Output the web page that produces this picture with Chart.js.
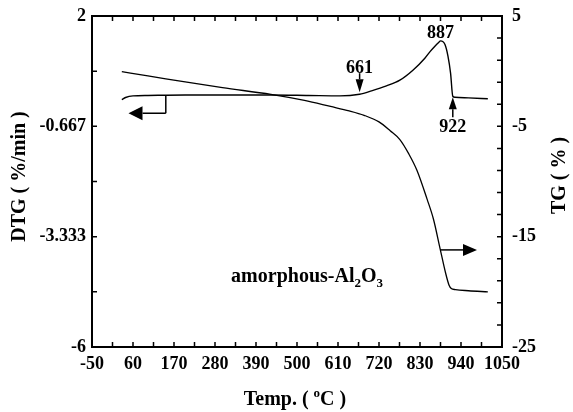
<!DOCTYPE html>
<html>
<head>
<meta charset="utf-8">
<script src="https://cdn.jsdelivr.net/npm/chart.js@4/dist/chart.umd.min.js"></script>
<style>
  html, body { margin: 0; padding: 0; background: #fff; }
  #wrap { width: 573px; height: 412px; }
</style>
</head>
<body>
<div id="wrap"><canvas id="chart"></canvas></div>
<script>
// values
const TEMP_DTG = [30, 40, 60, 100, 200, 300, 430, 530, 615, 668, 700, 740, 776, 811, 843, 857, 870, 880, 885, 897, 905, 912, 918, 924, 960, 1012];
const DTG = [-0.02, 0.03, 0.07, 0.08, 0.09, 0.09, 0.09, 0.08, 0.07, 0.11, 0.19, 0.31, 0.45, 0.69, 0.98, 1.14, 1.27, 1.36, 1.40, 1.31, 1.03, 0.62, 0.06, 0.035, 0.02, 0.0];

const TEMP_TG = [30, 100, 200, 300, 430, 520, 590, 640, 680, 720, 750, 776, 800, 822, 849, 866, 884, 898, 908, 914, 925, 960, 1012];
const TG = [-0.05, -0.42, -0.98, -1.5, -2.1, -2.65, -3.2, -3.6, -4.0, -4.6, -5.4, -6.2, -7.5, -9.0, -11.6, -13.4, -16.1, -18.2, -19.4, -19.7, -19.8, -19.9, -20.0];

const X_TICKS = [-50, 5, 60, 115, 170, 225, 280, 335, 390, 445, 500, 555, 610, 665, 720, 775, 830, 885, 940, 995, 1050];
const X_LABELS = [-50, 60, 170, 280, 390, 500, 610, 720, 830, 940, 1050];
const DTG_TICKS = [-6, -4.667, -3.333, -2, -0.667, 0.667, 2];
const DTG_LABELS = [-6, -3.333, -0.667, 2];
const TG_TICKS = [-25, -23, -21, -19, -17, -15, -13, -11, -9, -7, -5, -3, -1, 1, 3, 5];
const TG_LABELS = [-25, -15, -5, 5];

// peak marks: temperature on the curve, text shown
const PEAK_T = [668, 885, 918];
const PEAK_TEXT = ["661", "887", "922"];

// axis arrows (data units)
const DTG_ARROW = { fromT: 148, toT: 48, y: -0.35 };
const TG_ARROW = { fromT: 884, toT: 983, y: -16.2 };
const SAMPLE_AT = { t: 527, y: -4.33 };

const FAMILY = '"Liberation Serif", "Times New Roman", serif';
const tickFont = { family: FAMILY, size: 18, weight: "bold" };

function pts(xs, ys) {
  return xs.map((t, i) => ({ x: t, y: ys[i] }));
}

function valueAt(xs, ys, t) {
  for (let i = 1; i < xs.length; i++) {
    if (t <= xs[i]) {
      const f = (t - xs[i - 1]) / (xs[i] - xs[i - 1]);
      return ys[i - 1] + f * (ys[i] - ys[i - 1]);
    }
  }
  return ys[ys.length - 1];
}

function arrow(ctx, x1, y1, x2, y2, len, half) {
  const ang = Math.atan2(y2 - y1, x2 - x1);
  const bx = x2 - Math.cos(ang) * len, by = y2 - Math.sin(ang) * len;
  ctx.beginPath();
  ctx.moveTo(x1, y1);
  ctx.lineTo(bx, by);
  ctx.stroke();
  ctx.beginPath();
  ctx.moveTo(x2, y2);
  ctx.lineTo(bx + Math.sin(ang) * half, by - Math.cos(ang) * half);
  ctx.lineTo(bx - Math.sin(ang) * half, by + Math.cos(ang) * half);
  ctx.closePath();
  ctx.fill();
}

// parts: [text, size, dy]
function richText(ctx, parts, x, y) {
  let w = 0;
  parts.forEach(([t, s]) => { ctx.font = `bold ${s}px ${FAMILY}`; w += ctx.measureText(t).width; });
  let cx = x - w / 2;
  ctx.textAlign = "left";
  parts.forEach(([t, s, dy]) => {
    ctx.font = `bold ${s}px ${FAMILY}`;
    ctx.fillText(t, cx, y + dy);
    cx += ctx.measureText(t).width;
  });
}

const decor = {
  id: "decor",
  afterDraw(chart) {
    const { ctx, chartArea: a } = chart;
    const { x, y, y1 } = chart.scales;
    ctx.save();
    ctx.strokeStyle = "#000";
    ctx.fillStyle = "#000";

    // frame + inward ticks
    ctx.lineWidth = 2;
    ctx.strokeRect(a.left, a.top, a.right - a.left, a.bottom - a.top);
    ctx.lineWidth = 1.5;
    ctx.beginPath();
    X_TICKS.forEach(v => {
      const p = x.getPixelForValue(v);
      ctx.moveTo(p, a.bottom); ctx.lineTo(p, a.bottom - 5);
      ctx.moveTo(p, a.top); ctx.lineTo(p, a.top + 5);
    });
    DTG_TICKS.forEach(v => {
      const p = y.getPixelForValue(v);
      ctx.moveTo(a.left, p); ctx.lineTo(a.left + 5, p);
    });
    TG_TICKS.forEach(v => {
      const p = y1.getPixelForValue(v);
      ctx.moveTo(a.right, p); ctx.lineTo(a.right - 5, p);
    });
    ctx.stroke();

    // peak marks
    ctx.lineWidth = 1.5;
    ctx.font = `bold 18px ${FAMILY}`;
    ctx.textAlign = "center";
    const px = PEAK_T.map(t => x.getPixelForValue(t));
    const py = PEAK_T.map(t => y.getPixelForValue(valueAt(TEMP_DTG, DTG, t)));
    // 661: arrow down onto curve, text above
    arrow(ctx, px[0], py[0] - 21, px[0], py[0] - 2, 13, 4);
    ctx.textBaseline = "alphabetic";
    ctx.fillText(PEAK_TEXT[0], px[0], py[0] - 21);
    // 887: text over the peak
    ctx.fillText(PEAK_TEXT[1], px[1], py[1] - 3);
    // 922: arrow up to curve, text below
    arrow(ctx, px[2], py[2] + 21, px[2], py[2] + 1, 12, 4);
    ctx.textBaseline = "top";
    ctx.fillText(PEAK_TEXT[2], px[2], py[2] + 22);

    // axis arrows
    const ax0 = x.getPixelForValue(DTG_ARROW.fromT);
    const ay0 = y.getPixelForValue(valueAt(TEMP_DTG, DTG, DTG_ARROW.fromT));
    const ay1 = y.getPixelForValue(DTG_ARROW.y);
    ctx.beginPath();
    ctx.moveTo(ax0, ay0); ctx.lineTo(ax0, ay1);
    ctx.stroke();
    arrow(ctx, ax0, ay1, x.getPixelForValue(DTG_ARROW.toT), ay1, 14, 7);
    const by = y1.getPixelForValue(TG_ARROW.y);
    arrow(ctx, x.getPixelForValue(TG_ARROW.fromT), by, x.getPixelForValue(TG_ARROW.toT), by, 14, 6);

    // sample name
    ctx.textBaseline = "alphabetic";
    richText(ctx, [["amorphous-Al", 20, 0], ["2", 13, 5], ["O", 20, 0], ["3", 13, 5]],
      x.getPixelForValue(SAMPLE_AT.t), y.getPixelForValue(SAMPLE_AT.y) + 4);

    // axis titles
    const midY = (a.top + a.bottom) / 2;
    ctx.font = `bold 20px ${FAMILY}`;
    ctx.textAlign = "center";
    ctx.textBaseline = "middle";
    ctx.save();
    ctx.translate(20, midY - 5);
    ctx.rotate(-Math.PI / 2);
    ctx.fillText("DTG ( %/min )", 0, 0);
    ctx.restore();
    ctx.save();
    ctx.translate(a.right + 58, midY - 6);
    ctx.rotate(-Math.PI / 2);
    ctx.fillText("TG ( % )", 0, 0);
    ctx.restore();
    ctx.textBaseline = "alphabetic";
    richText(ctx, [["Temp. ( ", 20, 0], ["o", 13, -8], ["C )", 20, 0]],
      (a.left + a.right) / 2 - 2, a.bottom + 58);

    ctx.restore();
  }
};

function fitY(width) {
  return s => { s.width = width; s.paddingTop = 0; s.paddingBottom = 0; };
}

new Chart(document.getElementById("chart"), {
  type: "line",
  data: {
    datasets: [
      {
        label: "DTG",
        data: pts(TEMP_DTG, DTG),
        yAxisID: "y",
        borderColor: "#000",
        borderWidth: 1.4,
        pointRadius: 0,
        cubicInterpolationMode: "monotone",
      },
      {
        label: "TG",
        data: pts(TEMP_TG, TG),
        yAxisID: "y1",
        borderColor: "#000",
        borderWidth: 1.3,
        pointRadius: 0,
        cubicInterpolationMode: "monotone",
      },
    ],
  },
  options: {
    responsive: true,
    maintainAspectRatio: false,
    animation: false,
    layout: { padding: { top: 16 } },
    plugins: { legend: { display: false }, tooltip: { enabled: false } },
    scales: {
      x: {
        type: "linear",
        min: -50,
        max: 1050,
        afterBuildTicks: s => { s.ticks = X_TICKS.map(v => ({ value: v })); },
        afterFit: s => { s.height = 65; s.paddingLeft = 0; s.paddingRight = 0; },
        grid: { display: false, drawTicks: false },
        border: { display: false },
        ticks: {
          autoSkip: false,
          maxRotation: 0,
          padding: 7,
          color: "#000",
          font: tickFont,
          callback: v => (X_LABELS.includes(v) ? String(v) : ""),
        },
      },
      y: {
        position: "left",
        min: -6,
        max: 2,
        afterBuildTicks: s => { s.ticks = DTG_TICKS.map(v => ({ value: v })); },
        afterFit: fitY(92),
        grid: { display: false, drawTicks: false },
        border: { display: false },
        ticks: {
          autoSkip: false,
          padding: 6,
          color: "#000",
          font: tickFont,
          callback: v => (DTG_LABELS.includes(v) ? String(v) : ""),
        },
      },
      y1: {
        position: "right",
        min: -25,
        max: 5,
        afterBuildTicks: s => { s.ticks = TG_TICKS.map(v => ({ value: v })); },
        afterFit: fitY(71),
        grid: { display: false, drawTicks: false },
        border: { display: false },
        ticks: {
          autoSkip: false,
          padding: 10,
          color: "#000",
          font: tickFont,
          callback: v => (TG_LABELS.includes(v) ? String(v) : ""),
        },
      },
    },
  },
  plugins: [decor],
});
</script>
</body>
</html>
